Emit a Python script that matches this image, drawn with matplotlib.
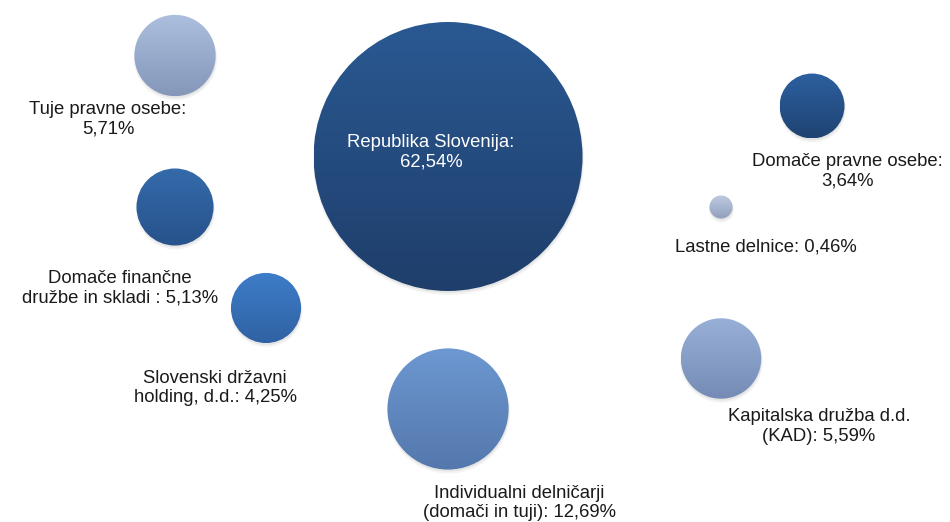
import numpy as np
import matplotlib
matplotlib.use("Agg")
import matplotlib.pyplot as plt
from matplotlib.patches import Ellipse
from matplotlib.colors import LinearSegmentedColormap

plt.rcParams["font.family"] = ["Liberation Sans", "DejaVu Sans"]

labels = [
    "Tuje pravne osebe:\n5,71%",
    "Domače finančne\ndružbe in skladi : 5,13%",
    "Slovenski državni\nholding, d.d.: 4,25%",
    "Republika Slovenija:\n62,54%",
    "Individualni delničarji\n(domači in tuji): 12,69%",
    "Lastne delnice: 0,46%",
    "Kapitalska družba d.d.\n(KAD): 5,59%",
    "Domače pravne osebe:\n3,64%",
]
x_pos = [1, 1, 2, 4, 4, 7, 7, 8]
y_pos = [8, 5, 3, 6, 1, 5, 2, 7]
shares = [5.71, 5.13, 4.25, 62.54, 12.69, 0.46, 5.59, 3.64]

# gradient colours (top, bottom)
colors = [
    ("#adbfde", "#8597b9"),
    ("#356bab", "#27528b"),
    ("#3e7dc9", "#2f62a3"),
    ("#2a5992", "#1f3e6b"),
    ("#6d98d1", "#5478ad"),
    ("#bfcbe2", "#919fbc"),
    ("#98b0d8", "#758bb5"),
    ("#2d60a0", "#1f4372"),
]
# label offsets in pixels (dx, dy downwards)
offsets = [(-67, 64), (-55, 81), (-51, 80), (-17, -4), (71, 94), (45, 40), (98, 68), (35, 65)]
text_colors = ["#1a1a1a"] * 3 + ["white"] + ["#1a1a1a"] * 4

W, H = 950, 522
fig = plt.figure(figsize=(W / 100, H / 100), dpi=100)
ax = fig.add_axes([0, 0, 1, 1])
ax.set_xlim(-0.923, 9.516)
ax.set_ylim(-1.238, 9.099)
ax.axis("off")

px_x = W / (9.516 + 0.923)
px_y = H / (9.099 + 1.238)
r_max = 134.5
vmax = max(shares)

for i, v in enumerate(shares):
    r = r_max * np.sqrt(v / vmax)
    rx, ry = r / px_x, r / px_y
    cx, cy = x_pos[i], y_pos[i]
    # soft shadow below the bubble
    for k, off, a in [(1.0, 3.0, 0.08), (0.0, 2.0, 0.12)]:
        sh = Ellipse((cx + 0.5 / px_x, cy - off / px_y), 2 * (r + k) / px_x, 2 * (r + k) / px_y,
                     facecolor="#7a7a7a", edgecolor="none", alpha=a, zorder=1)
        ax.add_patch(sh)
    circ = Ellipse((cx, cy), 2 * rx, 2 * ry, facecolor="none", edgecolor="none", zorder=2)
    ax.add_patch(circ)
    cmap = LinearSegmentedColormap.from_list("g%d" % i, [colors[i][1], colors[i][0]])
    grad = np.linspace(0, 1, 256).reshape(-1, 1)
    im = ax.imshow(grad, extent=(cx - rx, cx + rx, cy - ry, cy + ry), origin="lower",
                   cmap=cmap, aspect="auto", zorder=2, interpolation="bilinear")
    im.set_clip_path(circ)
    dx, dy = offsets[i]
    ax.annotate(labels[i], (cx, cy), xytext=(dx * 0.72, -dy * 0.72), textcoords="offset points",
                ha="center", va="center", fontsize=13.3, color=text_colors[i],
                linespacing=1.2, zorder=3)

ax.set_xlim(-0.923, 9.516)
ax.set_ylim(-1.238, 9.099)
fig.savefig("out.png", dpi=100, facecolor="white")
